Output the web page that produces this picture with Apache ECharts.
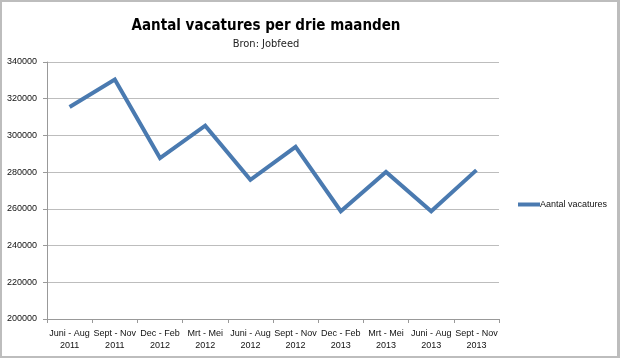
<!DOCTYPE html>
<html><head><meta charset="utf-8">
<script src="https://cdn.jsdelivr.net/npm/echarts@6/dist/echarts.min.js"></script>
<style>
html,body{margin:0;padding:0;background:#fff;}
#c{width:620px;height:358px;position:relative;}
#frame{position:absolute;left:0;top:0;width:620px;height:358px;box-sizing:border-box;border-style:solid;border-color:#bdbdbd;border-width:2px 3px 2px 2px;pointer-events:none;}
</style></head>
<body>
<div style="position:relative;width:620px;height:358px;">
<div id="c"></div>
<div id="frame"></div>
</div>
<script>
var categories = ["Juni - Aug\n2011","Sept - Nov\n2011","Dec - Feb\n2012","Mrt - Mei\n2012","Juni - Aug\n2012","Sept - Nov\n2012","Dec - Feb\n2013","Mrt - Mei\n2013","Juni - Aug\n2013","Sept - Nov\n2013"];
var seriesName = "Aantal vacatures";
var values = [315500, 330400, 287700, 305300, 275800, 293800, 258700, 280100, 258700, 281100];
var yMin = 200000, yMax = 340000, yStep = 20000;

var chart = echarts.init(document.getElementById('c'));
var font = "'DejaVu Sans Condensed', 'Liberation Sans', sans-serif";
var font2 = "'Liberation Sans', sans-serif";
chart.setOption({
  animation: false,
  backgroundColor: '#fff',
  title: {
    text: 'Aantal vacatures per drie maanden',
    subtext: 'Bron: Jobfeed',
    left: 261, textAlign: 'center', top: 14, itemGap: 5,
    textStyle: {fontFamily: font, fontSize: 15, fontWeight: 'bold', color: '#000'},
    subtextStyle: {fontFamily: font, fontSize: 11, color: '#222'}
  },
  legend: {
    data: [seriesName], left: 513, top: 195,
    itemWidth: 22, itemHeight: 4, icon: 'rect',
    textStyle: {fontFamily: font2, fontSize: 9, color: '#111', padding: [0,0,0,-5]}
  },
  grid: {left: 47, right: 121, top: 62, bottom: 39, containLabel: false},
  xAxis: {
    type: 'category', data: categories, boundaryGap: true,
    axisLine: {lineStyle: {color: '#999', width: 1}},
    axisTick: {show: true, length: 4, lineStyle: {color: '#999'}},
    axisLabel: {fontFamily: font2, fontSize: 9, color: '#111', margin: 9, lineHeight: 12, interval: 0}
  },
  yAxis: {
    type: 'value', min: yMin, max: yMax, interval: yStep,
    axisLine: {show: true, lineStyle: {color: '#999', width: 1}},
    axisTick: {show: true, length: 4, lineStyle: {color: '#999'}},
    splitLine: {lineStyle: {color: '#bdbdbd', width: 1}},
    axisLabel: {fontFamily: font2, fontSize: 9, color: '#111', margin: 10, formatter: function(v){return String(v);}}
  },
  series: [{
    name: seriesName, type: 'line', data: values,
    symbol: 'none', lineStyle: {color: '#4a7ab0', width: 4, join: 'miter'},
    itemStyle: {color: '#4a7ab0'}
  }]
});
</script>
</body></html>
